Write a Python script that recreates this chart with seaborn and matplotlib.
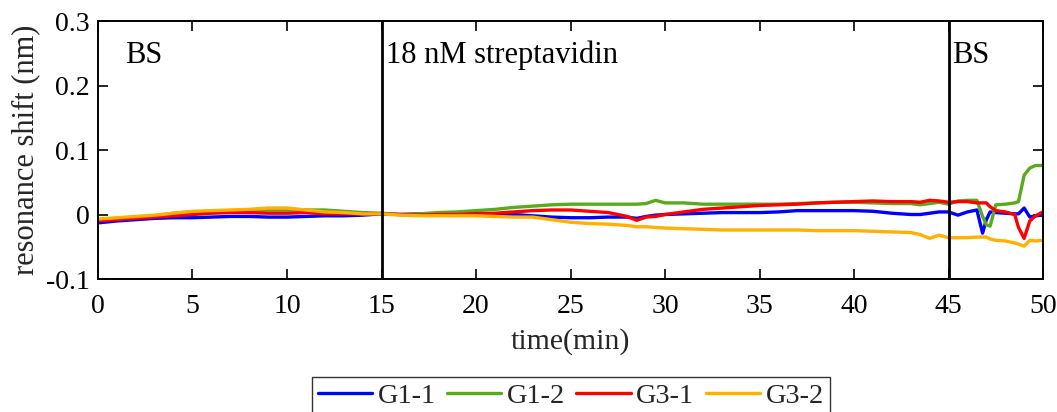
import numpy as np
import pandas as pd
import matplotlib
matplotlib.use("Agg")
import matplotlib.pyplot as plt
import seaborn as sns

time_min = [0, 1, 2, 3, 4, 5, 6, 7, 8, 9, 10, 11, 12, 13, 14, 15, 16, 17, 18, 19, 20,
            21, 22, 23, 24, 25, 26, 27, 28, 28.5, 29, 29.5, 30, 31, 32, 33, 34, 35, 36,
            37, 38, 39, 40, 41, 42, 43, 43.5, 44, 44.5, 45, 45.5, 46, 46.5, 46.8, 47,
            47.2, 47.5, 48, 48.5, 48.7, 49, 49.3, 49.6, 50]

g1_1 = [-0.013, -0.010, -0.008, -0.006, -0.005, -0.005, -0.004, -0.003, -0.003, -0.004,
        -0.004, -0.003, -0.002, -0.002, -0.001, 0.001, 0.000, 0.001, 0.001, 0.002, 0.002,
        0.001, 0.000, -0.002, -0.004, -0.005, -0.005, -0.004, -0.004, -0.006, -0.003,
        -0.001, 0.000, 0.001, 0.002, 0.003, 0.003, 0.003, 0.004, 0.006, 0.006, 0.006,
        0.006, 0.005, 0.002, 0.000, 0.000, 0.002, 0.004, 0.004, -0.001, 0.004, 0.007,
        -0.029, -0.008, 0.004, 0.003, 0.002, 0.001, 0.001, 0.010, -0.004, -0.002, -0.001]

g1_2 = [-0.008, -0.006, -0.004, -0.002, 0.002, 0.004, 0.005, 0.006, 0.007, 0.007,
        0.007, 0.007, 0.007, 0.005, 0.003, 0.002, 0.000, 0.001, 0.003, 0.004, 0.006,
        0.008, 0.011, 0.013, 0.015, 0.016, 0.016, 0.016, 0.016, 0.016, 0.017,
        0.022, 0.018, 0.018, 0.016, 0.016, 0.016, 0.016, 0.016, 0.017, 0.018, 0.019,
        0.019, 0.018, 0.017, 0.017, 0.015, 0.017, 0.019, 0.016, 0.021, 0.022, 0.022,
        -0.003, -0.016, -0.018, 0.015, 0.016, 0.018, 0.020, 0.061, 0.072, 0.076, 0.076]

g3_1 = [-0.010, -0.008, -0.006, -0.004, -0.002, 0.000, 0.002, 0.003, 0.003, 0.002,
        0.002, 0.003, 0.001, 0.001, 0.001, 0.001, 0.000, -0.001, 0.000, 0.000, 0.001,
        0.002, 0.004, 0.006, 0.007, 0.007, 0.005, 0.003, -0.003, -0.009, -0.004,
        -0.003, 0.000, 0.004, 0.008, 0.010, 0.012, 0.014, 0.015, 0.016, 0.018, 0.019,
        0.020, 0.021, 0.020, 0.020, 0.019, 0.022, 0.021, 0.019, 0.020, 0.020, 0.018,
        0.018, 0.018, 0.012, 0.006, 0.004, 0.000, -0.020, -0.037, -0.010, -0.002, 0.004]

g3_2 = [-0.007, -0.005, -0.003, -0.001, 0.002, 0.005, 0.006, 0.007, 0.008, 0.010,
        0.010, 0.007, 0.004, 0.003, 0.001, 0.001, -0.001, -0.002, -0.002, -0.002, -0.002,
        -0.003, -0.004, -0.004, -0.008, -0.012, -0.014, -0.015, -0.017, -0.019, -0.019,
        -0.020, -0.021, -0.022, -0.023, -0.024, -0.024, -0.024, -0.024, -0.024, -0.025,
        -0.025, -0.025, -0.026, -0.027, -0.028, -0.031, -0.037, -0.032, -0.036, -0.036,
        -0.036, -0.035, -0.035, -0.035, -0.038, -0.040, -0.041, -0.044, -0.046, -0.049,
        -0.040, -0.041, -0.040]

series_names = ["G1-1", "G1-2", "G3-1", "G3-2"]
series_colors = ["#0000ff", "#5aaa1e", "#ff0000", "#ffb000"]
x_ticks = [0, 5, 10, 15, 20, 25, 30, 35, 40, 45, 50]
y_ticks = [-0.1, 0, 0.1, 0.2, 0.3]
y_tick_labels = ["-0.1", "0", "0.1", "0.2", "0.3"]
phase_bounds = [15, 45]
phase_labels = ["BS", "18 nM streptavidin", "BS"]
phase_label_x = [1.45, 15.25, 45.2]

sns.set_style("ticks")
plt.rcParams["font.family"] = ["Liberation Serif", "DejaVu Serif"]

frames = []
for name, vals in zip(series_names, [g1_1, g1_2, g3_1, g3_2]):
    frames.append(pd.DataFrame({"time": time_min, "shift": vals, "series": name}))
df = pd.concat(frames, ignore_index=True)

fig = plt.figure(figsize=(10.57, 4.12), dpi=100)
ax = fig.add_axes([0.0927, 0.3228, 0.8941, 0.6262])

sns.lineplot(data=df, x="time", y="shift", hue="series", hue_order=series_names,
             palette=series_colors, linewidth=2.4, ax=ax, legend=False, sort=False,
             estimator=None)

for xb in phase_bounds:
    ax.axvline(xb, color="black", linewidth=2.0)
for lab, lx in zip(phase_labels, phase_label_x):
    ax.text(lx, 0.247, lab, fontsize=22, ha="left", va="center", color="black")

ax.set_xlim(0, 50)
ax.set_ylim(-0.1, 0.3)
ax.set_xticks(x_ticks)
ax.set_yticks(y_ticks)
ax.set_yticklabels(y_tick_labels)
ax.tick_params(direction="in", length=7, width=1.2, top=True, right=True,
               labelsize=20, colors="black")
ax.tick_params(axis="x", pad=11)
ax.tick_params(axis="y", pad=6)
for sp in ax.spines.values():
    sp.set_visible(True)
    sp.set_linewidth(1.4)
    sp.set_color("black")
ax.set_xlabel("time(min)", fontsize=21.5, labelpad=6)
ax.set_ylabel("resonance shift (nm)", fontsize=22, labelpad=4)

handles = [plt.Line2D([], [], color=c, linewidth=2.4) for c in series_colors]
leg = fig.legend(handles, series_names, loc="upper center", bbox_to_anchor=(0.54, 0.085),
                 ncol=4, fontsize=20.5, frameon=True, fancybox=False,
                 edgecolor="black", handlelength=1.9, columnspacing=0.4,
                 handletextpad=0.2, borderpad=0.2, borderaxespad=0)
leg.get_frame().set_linewidth(1.0)

fig.savefig("out.png", dpi=100)
